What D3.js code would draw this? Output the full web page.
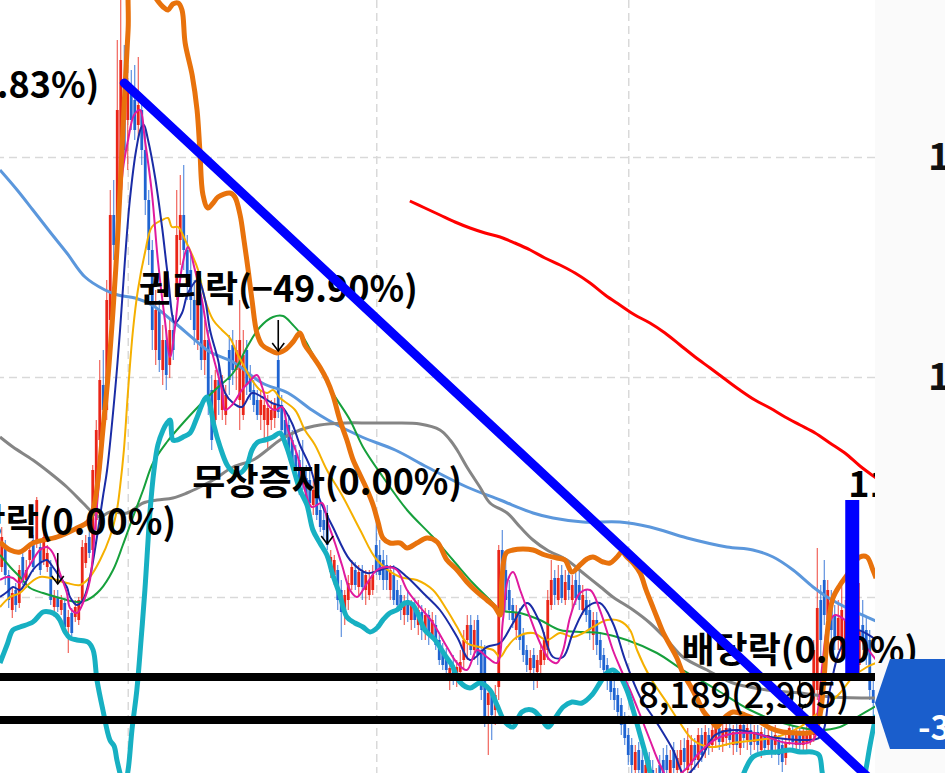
<!DOCTYPE html>
<html>
<head>
<meta charset="utf-8">
<script src="https://cdn.jsdelivr.net/npm/d3@7"></script>
<style>
html, body { margin: 0; padding: 0; background: #fff; overflow: hidden; }
svg { display: block; }
text { font-family: "Noto Sans CJK KR", "Noto Sans", sans-serif; }
</style>
</head>
<body>
<div id="chart"></div>
<script>
// ---- data (price in won, index = trading day in view) ----
const opens = [11300,11520,11220,10870,11070,10940,11400,11170,11370,11570,
11540,11500,11370,11300,11300,10900,11000,10870,10940,10700,
10840,10800,10770,10970,11340,11600,11470,11770,12570,13120,
12870,13770,14820,14470,15070,16070,15770,16120,15970,15720,
15870,15470,14970,14470,13470,13870,13270,13570,13320,13670,
14070,14570,14820,14470,14270,13970,13570,13970,13370,13570,
13070,12770,13170,12870,12820,13470,13520,13270,12970,12820,
13470,13220,13070,12970,12820,12770,12720,12770,12790,13370,
12920,12770,12720,12570,12420,12370,12270,12190,12170,11920,
12020,11870,11770,11820,11250,11220,11270,11070,10870,10970,
11120,11270,11100,11250,11070,11020,11070,11520,11420,11370,
11320,11070,11220,11070,11020,10820,10970,10770,10920,10720,
10850,10650,10820,10620,10720,10570,10470,10420,10170,10320,
10200,10250,10370,10570,10720,10470,10770,10470,10470,9920,
10020,9870,10100,11470,11270,11070,10920,10670,10820,10620,
10470,10270,10420,10250,10320,10370,10470,10920,11190,10970,
11220,10970,11220,10970,11170,11120,10870,10970,10870,10620,
10770,10570,10420,10320,10220,10090,10020,9920,9770,9620,
9520,9270,9470,9370,9170,9370,9270,9020,9320,9370,
9420,9220,9470,9270,9320,9490,9270,9320,9520,9370,
9620,9470,9620,9520,9570,9690,9550,9590,9690,9520,
9670,9490,9720,9570,9670,9550,9650,9470,9620,9520,
9590,9520,9570,9520,9390,9570,9670,9520,9640,9520,
9550,9570,9620,10070,10970,11170,10770,10970,10820,10570,
10470,10570,10770,10470,10670,10320,10720,10670,10570,10070];

const highs = [11700,11570,11270,11090,11140,11320,11470,11370,11520,11620,
12000,11570,11670,11520,11370,11070,11070,11020,10990,10870,
10890,10970,11000,11570,11620,11770,12320,12770,13370,13470,
14170,15070,15170,16570,17070,16520,16370,16270,16320,16400,
16020,15670,15070,14570,14070,13970,13720,13670,13770,13820,
15070,15220,15320,14620,14420,14170,14070,14020,13770,13670,
13220,13270,13320,13220,13120,13620,13670,13570,13970,13670,
13570,13320,13170,13070,13070,13020,13020,12970,12990,13450,
13020,12870,12820,12670,12520,12470,12570,12320,12270,12170,
12090,11970,11870,11920,11470,11420,11320,11170,11070,11220,
11370,11350,11320,11320,11270,11270,11320,11820,11570,11470,
11420,11320,11320,11170,11120,11020,11070,10970,10990,10970,
10920,10890,10870,10850,10820,10620,10540,10490,10370,10420,
10370,10470,10670,10820,10820,10770,10820,10570,10520,10090,
10070,10120,11520,11670,11420,11170,10990,10920,10890,10690,
10520,10470,10490,10420,10520,10650,11070,11370,11270,11320,
11320,11270,11370,11220,11270,11320,11120,11070,10970,10850,
10850,10650,10490,10390,10290,10170,10090,9990,9850,9690,
9590,9520,9550,9470,9420,9450,9370,9290,9420,9490,
9520,9470,9550,9470,9570,9590,9690,9620,9590,9690,
9690,9720,9690,9750,9770,9770,9750,9770,9750,9720,
9750,9820,9790,9770,9750,9720,9720,9700,9690,9690,
9670,9720,9620,9590,9620,9750,9720,9690,9690,9690,
9720,9770,10570,11490,11120,11370,11170,11070,10920,10970,
11120,10970,10870,10770,10770,11140,10970,10800,10670,10170];

const lows = [11250,11120,10890,10790,10850,10890,11120,11090,11310,11250,
11490,11220,11320,11250,10920,10800,10850,10820,10650,10440,
10570,10750,10720,10920,11290,11390,11420,11670,12470,12770,
12770,13670,14370,14370,14970,15370,15270,15670,15570,15570,
15320,14820,14320,13470,13320,13250,13120,13070,13190,13370,
13970,14320,14270,13970,13770,13520,13470,13270,13220,12820,
12470,12670,12820,12770,12720,13020,13120,13070,12670,12770,
13020,12970,12850,12770,12670,12570,12470,12670,12690,12790,
12570,12520,12370,12270,12170,12020,12070,11920,11870,11820,
11770,11650,11570,11470,11190,11120,10870,10600,10720,10870,
11070,11070,11020,10970,10920,10970,11020,11220,11170,11070,
11070,10970,10920,10850,10770,10720,10750,10670,10690,10620,
10570,10570,10520,10570,10470,10320,10270,10190,10070,10120,
10100,10120,10270,10370,10420,10370,10320,9970,9700,9420,
9570,9720,9970,11020,10870,10770,10690,10570,10470,10350,
10250,10170,10070,10090,10220,10320,10370,10870,10920,10920,
10940,10920,10970,10870,10920,10870,10820,10750,10570,10470,
10420,10290,10190,10070,9970,9870,9770,9620,9520,9320,
9220,9170,9120,9070,9070,9020,8970,8920,8970,9120,
9170,9120,9170,9170,9220,9270,9220,9220,9270,9290,
9350,9390,9420,9450,9490,9470,9450,9510,9490,9420,
9450,9420,9490,9470,9420,9470,9450,9390,9420,9450,
9390,9420,9320,9250,9320,9520,9490,9470,9450,9450,
9470,9520,9550,9970,10370,10720,10670,10570,10470,10470,
10370,10470,10470,10370,10370,10170,10470,10320,9970,9790];

const closes = [11600,11220,10970,11040,10920,11270,11170,11270,11470,11300,
11970,11270,11600,11440,10970,11000,10900,10970,10700,10800,
10640,10900,10970,11500,11540,11440,12270,12670,13170,12870,
13970,14820,14520,15870,16370,15470,16120,15770,15670,15920,
15470,14970,14470,13670,13870,13370,13570,13220,13670,13470,
14620,14820,14470,14170,13970,13670,13970,13370,13570,12970,
12570,13170,12970,13120,13020,13170,13270,13470,13570,13420,
13120,13050,12920,12820,12970,12920,12890,12870,12920,12850,
12670,12600,12470,12320,12270,12070,12170,11970,11940,12070,
11820,11700,11670,11520,11400,11370,10970,10850,11020,11140,
11300,11120,11250,11100,11220,11170,11220,11270,11220,11170,
11170,11270,10970,10920,10870,10940,10820,10920,10770,10870,
10670,10820,10620,10770,10520,10370,10320,10270,10290,10190,
10300,10350,10570,10720,10470,10670,10420,10070,9770,10040,
9820,10020,11470,11120,10970,10870,10770,10850,10570,10420,
10320,10390,10290,10370,10470,10570,10970,11170,11020,11190,
10990,11150,11070,11120,10990,10970,11020,10820,10670,10770,
10520,10370,10270,10170,10050,9970,9850,9720,9590,9420,
9320,9450,9270,9220,9320,9170,9070,9220,9070,9220,
9270,9370,9290,9390,9470,9350,9570,9520,9370,9620,
9420,9650,9490,9670,9690,9550,9670,9690,9570,9650,
9520,9720,9590,9690,9520,9650,9520,9650,9490,9620,
9470,9620,9420,9350,9550,9690,9550,9620,9520,9620,
9650,9690,10470,10890,10570,10820,11070,10670,10570,10790,
10870,10770,10570,10670,10470,10670,10570,10420,10070,9940];

// moving averages / envelope, [day index, price]
const ma5 = [[-0.5,11170],[1.5,11200],[3.2,11190],[5.2,11140],[7.2,11270],[8.9,11370],[10.9,11470],[12.9,11500],[14.6,11440],[16.6,11240],[18.6,11040],[19.5,10890],[21.5,10840],[23.2,10940],[25.2,11170],[26.6,11670],[28.1,12270],[29.8,12970],[31.5,13770],[33.2,14570],[34.6,15270],[36.1,15570],[37.8,15820],[39.5,15870],[40.9,15570],[42.9,15040],[44.6,14370],[46.6,13770],[48.1,13400],[49.5,13700],[51.5,14300],[53.2,14500],[55.2,14270],[57.2,13970],[58.9,13620],[60.9,13340],[62.9,13070],[63.8,12870],[65.8,12920],[68.6,13070],[70.4,13140],[72.9,13220],[74.4,13100],[76.1,12920],[78.1,12870],[80.1,12900],[81.8,12670],[84.6,12400],[86.6,12070],[88.6,11900],[91.5,11940],[93.2,11740],[95.2,11540],[97.2,11320],[99.5,11070],[101.5,11000],[104.4,11140],[107.2,11270],[110.1,11300],[112.9,11270],[115.8,11070],[119.5,10900],[123.2,10740],[127.2,10500],[130.1,10340],[132.9,10270],[135.8,10470],[138.6,10400],[141.5,10340],[143.2,10770],[144.6,11170],[146.1,11250],[148.1,11070],[150.9,10800],[153.8,10540],[156.6,10370],[158.6,10340],[160.4,10470],[162.4,10800],[165.2,11040],[168.1,11070],[170.9,10870],[174.6,10470],[176.6,10300],[179.5,10070],[182.4,9820],[185.2,9570],[188.1,9320],[190.9,9170],[195.2,9270],[199.5,9450],[205.2,9600],[214.6,9640],[224.4,9540],[231.8,9570],[233.2,9870],[234.6,10370],[236.1,10720],[238.1,10820],[240.9,10770],[243.8,10670],[246.6,10520],[249.8,10370]];

const ma10 = [[-0.5,11000],[1.5,11050],[3.2,11100],[5.2,11070],[7.2,11170],[8.9,11270],[10.9,11340],[12.9,11370],[14.6,11300],[16.6,11200],[18.6,11100],[19.5,11000],[21.5,10920],[23.2,10970],[25.2,11200],[27.2,11600],[28.9,12000],[30.1,12270],[32.4,13070],[33.8,13670],[35.2,14370],[36.6,14970],[38.4,15470],[39.8,15690],[40.6,15720],[41.8,15570],[43.8,15200],[45.8,14700],[47.5,14200],[49.5,13740],[51.5,13840],[53.2,14040],[56.1,14170],[58.1,13970],[59.5,13670],[61.8,13370],[63.8,13040],[66.1,12940],[68.6,12900],[71.5,13040],[74.4,13000],[77.2,12940],[80.1,12900],[82.9,12740],[85.2,12520],[88.1,12300],[90.9,11970],[94.6,11700],[99.5,11370],[104.4,11240],[108.1,11270],[111.8,11300],[115.8,11200],[120.4,11040],[125.2,10870],[130.1,10600],[133.8,10370],[138.6,10500],[142.4,10540],[146.1,10740],[150.1,10940],[153.8,10740],[157.5,10400],[160.4,10400],[163.2,10640],[167.2,10900],[170.9,10940],[174.6,10740],[178.1,10370],[182.4,10000],[187.2,9740],[191.8,9470],[195.2,9220],[199.5,9370],[203.8,9620],[210.1,9670],[219.5,9600],[228.9,9570],[233.8,9600],[236.6,10070],[239.5,10470],[243.8,10670],[249.8,10570]];

const ma20 = [[-0.5,10900],[2.4,11000],[5.2,11040],[8.1,11140],[10.9,11200],[13.8,11190],[18.6,11140],[22.4,11120],[25.2,11200],[28.1,11370],[30.9,11600],[32.9,11870],[33.8,12100],[34.9,12470],[36.1,13070],[37.5,13670],[38.9,14070],[40.9,14440],[42.9,14700],[45.8,14770],[47.5,14790],[48.6,14700],[50.4,14700],[52.4,14570],[54.4,14420],[56.1,14270],[58.1,13970],[60.4,13770],[62.9,13670],[65.2,13590],[67.2,13440],[69.5,13290],[70.9,13200],[73.8,13070],[75.8,13040],[77.5,13070],[79.5,12990],[83.8,12870],[86.6,12670],[89.5,12520],[92.9,12270],[97.5,12000],[102.4,11670],[107.2,11370],[113.8,11200],[118.6,11170],[123.2,11070],[127.2,10870],[130.1,10700],[132.9,10540],[136.6,10500],[140.4,10470],[142.4,10400],[144.4,10500],[147.2,10600],[151.8,10640],[155.8,10570],[159.5,10640],[163.2,10600],[166.1,10640],[168.9,10700],[172.9,10770],[176.6,10760],[179.5,10670],[181.5,10470],[185.2,10200],[190.1,9940],[193.8,9740],[197.5,9570],[202.4,9500],[208.9,9540],[215.8,9570],[221.5,9600],[228.1,9700],[231.8,9800],[235.8,9920],[239.5,10040],[243.2,10200],[247.2,10300],[249.8,10340]];

const ma60 = [[-0.5,11420],[2.4,11300],[5.2,11200],[8.1,11090],[11.8,11040],[16.6,10990],[21.5,10950],[24.4,10970],[28.1,11070],[31.8,11270],[34.6,11520],[37.5,11800],[40.4,12070],[43.2,12340],[47.2,12550],[51.8,12740],[56.6,12920],[60.9,13070],[66.1,13240],[70.1,13500],[73.8,13700],[77.5,13800],[80.4,13810],[83.2,13720],[86.1,13600],[90.1,13340],[94.6,13040],[99.5,12770],[103.2,12500],[108.9,12200],[115.8,11870],[123.2,11600],[128.9,11370],[134.6,11140],[139.5,10970],[142.4,10870],[148.1,10840],[153.8,10770],[159.5,10670],[166.1,10650],[170.9,10640],[178.6,10570],[187.2,10440],[194.6,10270],[204.4,10070],[213.8,9870],[223.2,9740],[232.9,9670],[239.5,9700],[244.4,9800],[249.8,9910]];

const ma120 = [[-0.5,12600],[3.2,12500],[8.9,12370],[13.8,12240],[18.6,12100],[23.2,11940],[26.1,11840],[28.1,11800],[30.9,11850],[35.8,11840],[40.4,11940],[44.4,11970],[48.9,11990],[52.9,12040],[56.6,12100],[60.4,12170],[66.1,12300],[71.8,12370],[75.8,12470],[79.5,12570],[85.2,12670],[90.9,12720],[98.1,12740],[105.2,12740],[112.4,12740],[119.5,12730],[125.2,12670],[128.1,12570],[130.1,12470],[132.9,12300],[136.6,12100],[139.5,11940],[144.4,11840],[148.1,11700],[151.8,11570],[155.8,11470],[161.5,11370],[166.1,11240],[171.1,11100],[174.6,11000],[180.4,10870],[185.2,10740],[190.1,10570],[194.6,10400],[201.5,10270],[208.9,10140],[218.6,10070],[228.1,10040],[237.5,10000],[249.8,9990]];

const ma240 = [[-0.5,15270],[4.4,15070],[8.9,14870],[13.8,14650],[18.6,14440],[23.8,14200],[29.5,14070],[33.2,14020],[38.1,13990],[42.9,13920],[49.5,13740],[55.2,13570],[59.5,13450],[66.1,13350],[74.4,13140],[81.8,13040],[88.6,12870],[93.2,12770],[102.9,12600],[112.4,12470],[121.5,12300],[132.9,12100],[142.4,11970],[151.8,11840],[157.5,11790],[166.1,11750],[176.6,11750],[185.2,11700],[195.8,11590],[207.2,11500],[214.6,11470],[220.4,11400],[226.1,11270],[231.8,11100],[235.8,11000],[241.5,10890],[247.2,10800],[249.8,10760]];

const ma480 = [[116.6,14960],[120.9,14890],[125.2,14820],[129.5,14750],[133.8,14690],[138.1,14640],[142.4,14600],[146.6,14540],[151,14470],[155.2,14390],[159.5,14320],[163.8,14240],[168.1,14140],[172.4,14020],[176.6,13920],[180.9,13820],[185.2,13740],[189.5,13640],[193.8,13520],[198.1,13400],[202.4,13290],[206.6,13180],[210.9,13070],[215.2,12970],[219.5,12890],[223.8,12800],[228.1,12720],[232.4,12640],[236.6,12540],[240.9,12440],[245.2,12310],[249.8,12190]];

const envUpper = [[-0.5,11550],[2.4,11470],[5.2,11450],[8.9,11540],[15.8,11600],[21.5,11690],[24.6,11750],[26.1,11870],[27.5,12170],[28.9,12670],[30.4,13220],[31.8,13870],[32.9,14470],[33.8,15070],[34.9,15870],[36.1,16670],[37.2,17270],[40.9,17270],[42.9,17050],[44.4,16970],[46.1,16900],[47.5,16870],[48.9,16930],[50.4,16940],[51.5,16870],[52.4,16540],[54.4,16220],[55.8,15870],[56.6,15470],[57.5,15020],[58.9,14890],[60.4,14940],[61.8,15000],[65.2,15040],[66.6,15000],[68.1,14820],[69.2,14570],[70.4,14270],[71.5,13970],[72.9,13640],[74.4,13520],[76.6,13470],[78.6,13440],[80.9,13470],[83.2,13550],[85.2,13640],[86.6,13520],[88.6,13420],[90.9,13300],[92.9,13170],[94.6,13020],[96.6,12770],[98.6,12570],[100.4,12370],[102.4,12220],[104.4,12070],[106.1,11920],[107.5,11750],[108.9,11590],[110.9,11540],[113.8,11540],[115.8,11490],[118.6,11540],[121.5,11590],[124.4,11550],[127.2,11370],[130.1,11270],[132.9,11150],[135.8,11050],[138.6,10970],[140.9,10900],[142.4,10820],[142.9,11170],[144.1,11440],[146.1,11470],[148.9,11480],[151.8,11470],[155.2,11420],[158.6,11390],[160.9,11370],[162.9,11250],[165.2,11320],[167.2,11380],[168.9,11400],[171.8,11350],[173.8,11340],[175.8,11400],[177.2,11450],[178.6,11400],[180.4,11340],[182.4,11240],[184.1,11070],[185.8,10920],[187.5,10770],[188.9,10650],[190.9,10520],[192.9,10390],[194.6,10240],[196.6,10120],[198.6,9990],[200.6,9850],[202.6,9770],[204.4,9700],[206.1,9780],[208.9,9850],[212.4,9820],[215.8,9770],[219.5,9690],[223.2,9650],[227.2,9640],[230.4,9640],[232.4,9670],[233.8,9820],[234.9,10170],[236.1,10720],[237.5,10990],[239.5,11120],[241.5,11220],[243.2,11320],[245.2,11400],[247.2,11400],[248.9,11270],[249.8,11190]];

const envLower = [[-0.5,10340],[1.5,10520],[3.2,10670],[5.2,10700],[8.9,10750],[11.8,10850],[13.8,10850],[15.5,10820],[16.6,10770],[18.1,10650],[19.5,10590],[21.5,10570],[24.6,10550],[26.1,10470],[27.2,10170],[28.9,9870],[30.9,9570],[32.1,9510],[32.9,9370],[34.1,9190],[34.9,9070],[36.1,9270],[37.2,9670],[38.6,10070],[39.8,10570],[40.9,11070],[42.4,11870],[43.5,12270],[44.6,12520],[46.1,12670],[47.2,12740],[48.1,12770],[48.9,12570],[50.1,12570],[51.8,12600],[53.8,12640],[55.5,12770],[56.6,12870],[57.8,12970],[58.6,13000],[59.5,12920],[60.6,12720],[62.4,12500],[64.4,12320],[66.1,12250],[68.1,12240],[70.1,12320],[71.5,12470],[73.2,12550],[75.2,12570],[77.5,12600],[79.5,12640],[81.2,12520],[83.2,12300],[85.2,12070],[87.2,11920],[88.9,11670],[90.9,11540],[92.9,11420],[94.6,11220],[96.6,11020],[98.6,10800],[100.9,10740],[103.2,10700],[105.2,10650],[107.2,10690],[108.9,10770],[110.9,10840],[112.9,10870],[115.2,10940],[117.2,10930],[118.9,10830],[120.9,10670],[123.8,10570],[126.6,10420],[128.6,10320],[130.9,10150],[133.8,10090],[136.6,10140],[139.5,10070],[141.5,9920],[143.8,9750],[146.1,9700],[148.6,9850],[151.5,9870],[153.8,9800],[156.1,9700],[158.1,9790],[160.4,9900],[162.9,9950],[165.8,9940],[168.6,10020],[170.9,10140],[172.9,10240],[174.6,10270],[176.6,10210],[178.6,10070],[180.4,9870],[182.4,9620],[184.4,9370],[185.8,9170],[188.1,8970],[199.5,8870],[209.5,8970],[210.9,9120],[212.4,9270],[214.6,9400],[217.5,9440],[221.5,9450],[225.2,9470],[228.1,9450],[231.5,9450],[233.5,9420],[234.4,9250],[235.5,9020],[241,8870],[245.2,9020],[246.6,9220],[248.1,9520],[249.8,9820]];

// drawn objects
const gridPrices = [15400, 13200, 11000];
const axisLabelPrices = [15400, 13200];
const dateTicks = [36, 107, 179];
const trendLine = [[35, 16140], [249, 9150]];
const supportLines = [10200, 9770];
const markBar = { i: 243, top: 11970, bottom: 10210 };
const events = [
  { label: '권리락(−33.83%)', i: -12, tip: 15490 },
  { label: '배당락(0.00%)', i: 16, tip: 11120 },
  { label: '권리락(−49.90%)', i: 79, tip: 13450 },
  { label: '무상증자(0.00%)', i: 93, tip: 11520 },
  { label: '배당락(0.00%)', i: 228, tip: 9840 }
];
const lowLabel = { text: '8,189(2,995)', i: 212, price: 9890 };
const changeLabel = '-3.41%';

// ---- chart ----
const width = 945, height = 773, plotW = 875;

const svg = d3.select('#chart').append('svg')
    .attr('width', width)
    .attr('height', height);

const x = d3.scaleLinear().domain([-0.5, 249.5]).range([0, plotW]);
const y = d3.scaleLinear().domain([9240, 16970]).range([height, 0]);

svg.append('defs').append('clipPath').attr('id', 'plotClip')
    .append('rect').attr('width', plotW).attr('height', height);

svg.append('rect')
    .attr('x', plotW).attr('width', width - plotW).attr('height', height)
    .attr('fill', '#fafafa');

const plot = svg.append('g').attr('clip-path', 'url(#plotClip)');

// grid
plot.append('g')
    .attr('transform', `translate(${plotW},0)`)
    .call(d3.axisLeft(y).tickValues(gridPrices).tickSize(plotW).tickFormat(''))
    .call(g => g.select('.domain').remove())
    .selectAll('line')
    .attr('stroke', '#d9d9d9').attr('stroke-width', 1.5).attr('stroke-dasharray', '8,5');

plot.append('g')
    .call(d3.axisBottom(x).tickValues(dateTicks).tickSize(height).tickFormat(''))
    .call(g => g.select('.domain').remove())
    .selectAll('line')
    .attr('stroke', '#d9d9d9').attr('stroke-width', 1.5).attr('stroke-dasharray', '8,5');

// candles
const candles = d3.range(opens.length).map(i => ({
    i, o: opens[i], h: highs[i], l: lows[i], c: closes[i]
}));
const upColor = '#ea2518', downColor = '#1f64d2';
const candleColor = d => d.c >= d.o ? upColor : downColor;

const gCandle = plot.append('g').attr('class', 'candles');
gCandle.selectAll('line').data(candles).join('line')
    .attr('x1', d => x(d.i)).attr('x2', d => x(d.i))
    .attr('y1', d => y(d.h)).attr('y2', d => y(d.l))
    .attr('stroke', candleColor)
    .attr('stroke-opacity', 0.85)
    .attr('stroke-width', 1);
gCandle.selectAll('rect').data(candles).join('rect')
    .attr('x', d => x(d.i) - 1.4)
    .attr('width', 2.8)
    .attr('y', d => y(Math.max(d.o, d.c)))
    .attr('height', d => Math.max(1, Math.abs(y(d.o) - y(d.c))))
    .attr('fill', candleColor);

// lines
const lineGen = d3.line()
    .x(d => x(d[0]))
    .y(d => y(d[1]))
    .curve(d3.curveCatmullRom.alpha(0.5));

const series = [
    { data: ma240, color: '#5b97dc', w: 3 },
    { data: ma120, color: '#858585', w: 3 },
    { data: ma60, color: '#16a03c', w: 2 },
    { data: ma20, color: '#f5b000', w: 2 },
    { data: ma10, color: '#1a2ca6', w: 2 },
    { data: ma5, color: '#e01a9e', w: 2 },
    { data: envUpper, color: '#e8720c', w: 5 },
    { data: envLower, color: '#17b0c2', w: 5 },
    { data: ma480, color: '#ff0000', w: 3 }
];
plot.append('g').selectAll('path').data(series).join('path')
    .attr('d', s => lineGen(s.data))
    .attr('fill', 'none')
    .attr('stroke', s => s.color)
    .attr('stroke-width', s => s.w)
    .attr('stroke-linejoin', 'round');

// event annotations (not clipped, text runs into the price panel)
const gEvents = svg.append('g').attr('class', 'events');
const ev = gEvents.selectAll('g').data(events).join('g')
    .attr('transform', d => `translate(${x(d.i)},${y(d.tip)})`);
ev.append('line')
    .attr('y1', -32).attr('y2', -1)
    .attr('stroke', '#000').attr('stroke-width', 1.6);
ev.append('path')
    .attr('d', 'M-6,-9L0,-1L6,-9')
    .attr('fill', 'none').attr('stroke', '#000').attr('stroke-width', 1.6);
ev.append('text')
    .attr('y', -50)
    .attr('text-anchor', 'middle')
    .style('font-size', '36px')
    .style('font-weight', '700')
    .attr('fill', '#000')
    .text(d => d.label);

gEvents.append('text')
    .attr('x', x(lowLabel.i)).attr('y', y(lowLabel.price))
    .attr('text-anchor', 'middle')
    .style('font-size', '36px')
    .style('font-weight', '500')
    .attr('fill', '#000')
    .text(lowLabel.text);

// drawn tools on top
const tools = svg.append('g').attr('clip-path', 'url(#plotClip)');

tools.append('line')
    .attr('x1', x(trendLine[0][0])).attr('y1', y(trendLine[0][1]))
    .attr('x2', x(trendLine[1][0])).attr('y2', y(trendLine[1][1]))
    .attr('stroke', '#0000ff').attr('stroke-width', 9).attr('stroke-linecap', 'round');

tools.append('rect')
    .attr('x', x(markBar.i) - 7).attr('width', 14)
    .attr('y', y(markBar.top)).attr('height', y(markBar.bottom) - y(markBar.top))
    .attr('fill', '#0000ff');

tools.append('text')
    .attr('x', x(markBar.i) - 4).attr('y', y(markBar.top) - 3)
    .style('font-size', '36px').style('font-weight', '700')
    .text(d3.format(',')(markBar.top));

tools.selectAll('line.support').data(supportLines).join('line')
    .attr('class', 'support')
    .attr('x1', 0).attr('x2', plotW)
    .attr('y1', d => y(d)).attr('y2', d => y(d))
    .attr('stroke', '#000').attr('stroke-width', 8);

// price axis
svg.append('g')
    .attr('transform', `translate(${plotW},0)`)
    .call(d3.axisRight(y).tickValues(axisLabelPrices).tickSize(0).tickPadding(53).tickFormat(d3.format(',')))
    .call(g => g.select('.domain').remove())
    .selectAll('text')
    .style('font-size', '38px').style('font-weight', '700')
    .style('font-family', '"Noto Sans CJK KR", sans-serif')
    .attr('fill', '#111');

// current price tag
const last = closes[closes.length - 1];
const yc = y(last);
svg.append('path')
    .attr('d', `M${plotW},${yc}L${plotW + 15},${yc - 44}L${width + 5},${yc - 44}L${width + 5},${yc + 46}L${plotW + 15},${yc + 46}Z`)
    .attr('fill', '#1a5ecc');
svg.append('text')
    .attr('x', 918).attr('y', yc + 37)
    .style('font-size', '34px').style('font-weight', '700')
    .attr('fill', '#fff')
    .text(changeLabel);
</script>
</body>
</html>
